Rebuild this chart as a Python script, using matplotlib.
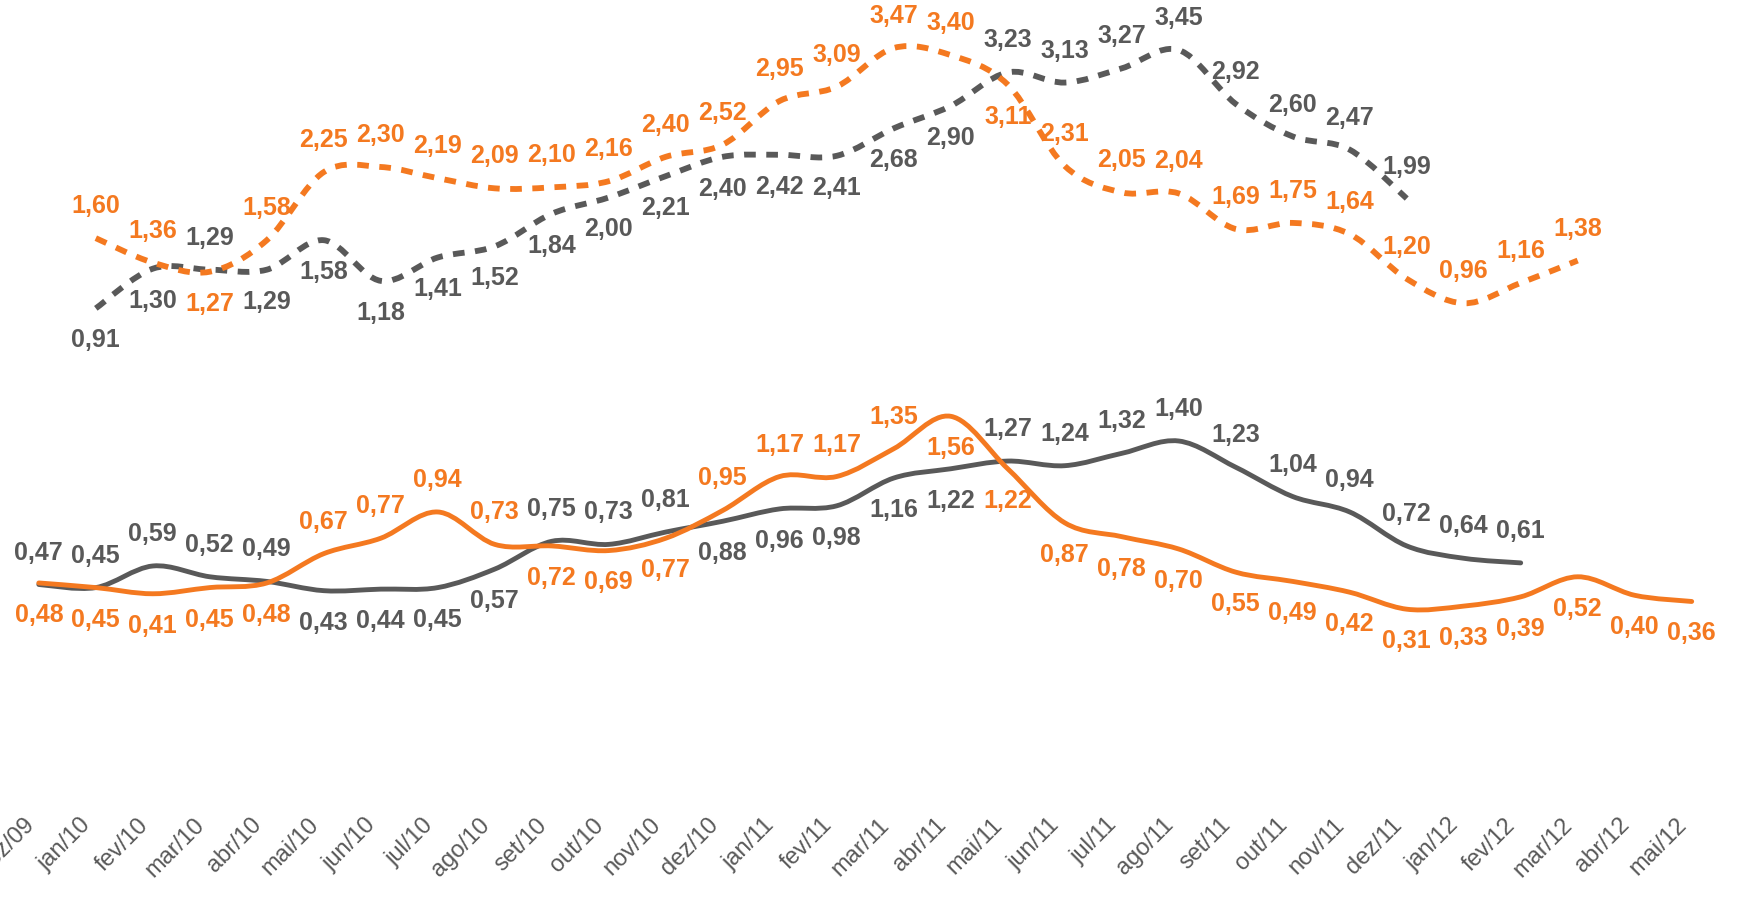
import matplotlib.pyplot as plt
import matplotlib.transforms as mtransforms
from matplotlib.path import Path
from matplotlib.patches import PathPatch

plt.rcParams['font.family'] = ['Liberation Sans', 'DejaVu Sans']

ORANGE = "#F47920"
GRAY = "#595959"

months = ["dez/09", "jan/10", "fev/10", "mar/10", "abr/10", "mai/10", "jun/10",
          "jul/10", "ago/10", "set/10", "out/10", "nov/10", "dez/10", "jan/11",
          "fev/11", "mar/11", "abr/11", "mai/11", "jun/11", "jul/11", "ago/11",
          "set/11", "out/11", "nov/11", "dez/11", "jan/12", "fev/12", "mar/12",
          "abr/12", "mai/12"]

# solid lines (left scale), starting dez/09
gray_solid = [0.47, 0.45, 0.59, 0.52, 0.49, 0.43, 0.44, 0.45, 0.57, 0.75, 0.73,
              0.81, 0.88, 0.96, 0.98, 1.16, 1.22, 1.27, 1.24, 1.32, 1.40, 1.23,
              1.04, 0.94, 0.72, 0.64, 0.61]
orange_solid = [0.48, 0.45, 0.41, 0.45, 0.48, 0.67, 0.77, 0.94, 0.73, 0.72, 0.69,
                0.77, 0.95, 1.17, 1.17, 1.35, 1.56, 1.22, 0.87, 0.78, 0.70, 0.55,
                0.49, 0.42, 0.31, 0.33, 0.39, 0.52, 0.40, 0.36]

# dashed lines (right scale), starting jan/10
gray_dashed = [0.91, 1.30, 1.29, 1.29, 1.58, 1.18, 1.41, 1.52, 1.84, 2.00, 2.21,
               2.40, 2.42, 2.41, 2.68, 2.90, 3.23, 3.13, 3.27, 3.45, 2.92, 2.60,
               2.47, 1.99]
orange_dashed = [1.60, 1.36, 1.27, 1.58, 2.25, 2.30, 2.19, 2.09, 2.10, 2.16, 2.40,
                 2.52, 2.95, 3.09, 3.47, 3.40, 3.11, 2.31, 2.05, 2.04, 1.69, 1.75,
                 1.64, 1.20, 0.96, 1.16, 1.38]

# label placement: a = above the point, b = below
gray_solid_pos = "aaaaabbbbaaabbbbbaaaaaaaaaa"
orange_solid_pos = "bbbbbaaaabbbaaaabbbbbbbbbbbbbb"
gray_dashed_pos = "bba" + "b" * 13 + "a" * 8
orange_dashed_pos = "aab" + "a" * 13 + "b" + "a" * 10


def smooth_path(xs, ys):
    # Catmull-Rom style bezier, like Excel's smoothed line
    n = len(xs)
    verts = [(xs[0], ys[0])]
    codes = [Path.MOVETO]
    for k in range(n - 1):
        x0, y0 = (xs[k - 1], ys[k - 1]) if k > 0 else (xs[k], ys[k])
        x1, y1 = xs[k], ys[k]
        x2, y2 = xs[k + 1], ys[k + 1]
        x3, y3 = (xs[k + 2], ys[k + 2]) if k + 2 < n else (x2, y2)
        verts += [(x1 + (x2 - x0) / 6, y1 + (y2 - y0) / 6),
                  (x2 - (x3 - x1) / 6, y2 - (y3 - y1) / 6),
                  (x2, y2)]
        codes += [Path.CURVE4] * 3
    return Path(verts, codes)


def draw_series(ax, start, values, pos, color, dashed):
    xs = list(range(start, start + len(values)))
    if dashed:
        patch = PathPatch(smooth_path(xs, values), fill=False, edgecolor=color,
                          lw=4.2, linestyle=(0, (2.0, 1.8)), capstyle='butt')
    else:
        patch = PathPatch(smooth_path(xs, values), fill=False, edgecolor=color,
                          lw=3.5, capstyle='round', joinstyle='round')
    ax.add_patch(patch)
    for x, v, p in zip(xs, values, pos):
        dy = 23 if p == "a" else -23
        ax.annotate(f"{v:.2f}".replace(".", ","), (x, v), xytext=(0, dy),
                    textcoords='offset points', ha='center', va='center',
                    fontsize=18, fontweight='bold', color=color, zorder=5)


fig = plt.figure(figsize=(17.39, 9.02), dpi=100)
ax = fig.add_axes([0, 97 / 902, 1, 805 / 902])
ax2 = ax.twinx()

for a in (ax, ax2):
    a.set_xlim(-0.681, 29.83)
    for s in a.spines.values():
        s.set_visible(False)
    a.set_xticks([])
    a.set_yticks([])
    a.patch.set_visible(False)

ax.set_ylim(-0.959, 4.258)
ax2.set_ylim(-3.974, 3.942)

draw_series(ax, 0, gray_solid, gray_solid_pos, GRAY, False)
draw_series(ax, 0, orange_solid, orange_solid_pos, ORANGE, False)
draw_series(ax2, 1, gray_dashed, gray_dashed_pos, GRAY, True)
draw_series(ax2, 1, orange_dashed, orange_dashed_pos, ORANGE, True)

# month labels under the plot
base = mtransforms.blended_transform_factory(ax.transData, ax.transAxes)
lbl_tr = mtransforms.offset_copy(base, fig=fig, x=-16, y=-9, units='dots')
for i, m in enumerate(months):
    ax.text(i, 0, m, transform=lbl_tr, rotation=45, rotation_mode='anchor',
            ha='right', va='top', fontsize=17, color=GRAY)

fig.savefig("out.png", dpi=100)
